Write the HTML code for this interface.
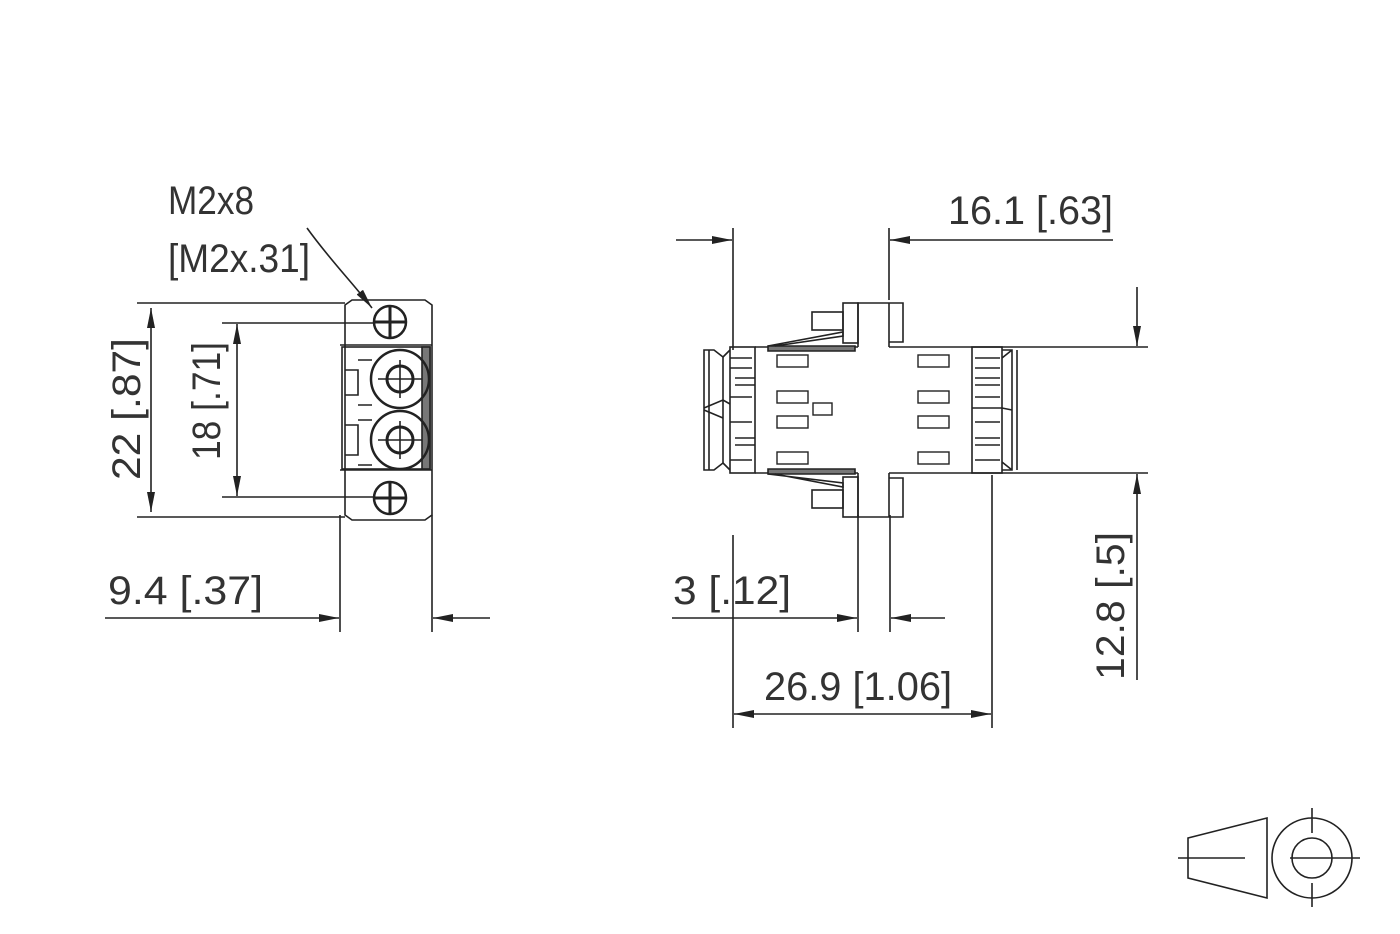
<!DOCTYPE html>
<html><head><meta charset="utf-8"><style>
html,body{margin:0;padding:0;background:#fff}
svg{display:block}
text{font-family:"Liberation Sans",sans-serif;font-size:40px;fill:#333}
</style></head><body>
<svg width="1400" height="934" viewBox="0 0 1400 934" xmlns="http://www.w3.org/2000/svg">
<defs>
<marker id="a" viewBox="0 0 20 8" refX="20" refY="4" markerWidth="20" markerHeight="8" markerUnits="userSpaceOnUse" orient="auto"><path d="M0,0 L20,4 L0,8 Z" fill="#222"/></marker>
</defs>
<g stroke="#222" stroke-width="1.6" fill="none">
<!-- LEFT VIEW dimensions -->
<line x1="137" y1="303" x2="345" y2="303"/>
<line x1="137" y1="517" x2="345" y2="517"/>
<line x1="151" y1="330" x2="151" y2="308" marker-end="url(#a)"/>
<line x1="151" y1="330" x2="151" y2="512" marker-end="url(#a)"/>
<line x1="222" y1="323" x2="375" y2="323"/>
<line x1="222" y1="497" x2="375" y2="497"/>
<line x1="237" y1="340" x2="237" y2="324" marker-end="url(#a)"/>
<line x1="237" y1="340" x2="237" y2="496" marker-end="url(#a)"/>
<line x1="340" y1="515" x2="340" y2="632"/>
<line x1="432" y1="515" x2="432" y2="632"/>
<line x1="105" y1="618" x2="339" y2="618" marker-end="url(#a)"/>
<line x1="490" y1="618" x2="433" y2="618" marker-end="url(#a)"/>
<path d="M307,228 C330,260 352,282 372,308" marker-end="url(#a)"/>
<!-- left connector -->
<path d="M345,305 L352,300 L425,300 L432,305 L432,515 L425,520 L352,520 L345,515 Z"/>
<line x1="340" y1="345" x2="432" y2="345"/>
<line x1="340" y1="470" x2="432" y2="470"/>
<rect x="342" y="347" width="88" height="122"/>
<rect x="422" y="347" width="8" height="122" fill="#777"/>
<path d="M345,370 L358,370 L358,395 L345,395 M345,425 L358,425 L358,455 L345,455"/>
<path d="M358,360 L372,360 M358,405 L372,405 M358,420 L372,420 M358,465 L372,465"/>
<circle cx="390" cy="322" r="16" stroke-width="2.5"/>
<path d="M374,322 L406,322 M390,306 L390,338" stroke-width="3"/>
<circle cx="390" cy="498" r="16" stroke-width="2.5"/>
<path d="M374,498 L406,498 M390,482 L390,514" stroke-width="3"/>
<circle cx="400" cy="379" r="29" stroke-width="2.5"/>
<circle cx="400" cy="379" r="13" stroke-width="3"/>
<path d="M378,379 L422,379 M400,360 L400,398"/>
<circle cx="400" cy="440" r="29" stroke-width="2.5"/>
<circle cx="400" cy="440" r="13" stroke-width="3"/>
<path d="M378,440 L422,440 M400,421 L400,459"/>
<!-- RIGHT VIEW dimensions -->
<line x1="733" y1="228" x2="733" y2="350"/>
<line x1="889" y1="228" x2="889" y2="300"/>
<line x1="676" y1="240" x2="732" y2="240" marker-end="url(#a)"/>
<line x1="1113" y1="240" x2="890" y2="240" marker-end="url(#a)"/>
<line x1="1020" y1="347" x2="1148" y2="347"/>
<line x1="1020" y1="473" x2="1148" y2="473"/>
<line x1="1137" y1="287" x2="1137" y2="346" marker-end="url(#a)"/>
<line x1="1137" y1="680" x2="1137" y2="474" marker-end="url(#a)"/>
<line x1="858" y1="515" x2="858" y2="632"/>
<line x1="890" y1="515" x2="890" y2="632"/>
<line x1="672" y1="618" x2="857" y2="618" marker-end="url(#a)"/>
<line x1="945" y1="618" x2="891" y2="618" marker-end="url(#a)"/>
<line x1="733" y1="535" x2="733" y2="728"/>
<line x1="992" y1="475" x2="992" y2="728"/>
<line x1="860" y1="714" x2="734" y2="714" marker-end="url(#a)"/>
<line x1="860" y1="714" x2="991" y2="714" marker-end="url(#a)"/>
<!-- right connector -->
<path d="M704,350 L714,350 L723,357 L723,463 L714,470 L704,470 Z"/>
<line x1="709" y1="350" x2="709" y2="470"/>
<path d="M723,357 L730,350 M723,463 L730,470 M704,408 L723,400 L730,404 M704,410 L723,418"/>
<rect x="730" y="347" width="25" height="126"/>
<path d="M730,358 L752,358 M730,368 L752,368 M735,378 L755,378 M735,385 L755,385 M730,397 L752,397 M730,422 L752,422 M735,438 L755,438 M735,445 L755,445 M730,460 L752,460"/>
<line x1="755" y1="347" x2="858" y2="347"/>
<line x1="755" y1="473" x2="858" y2="473"/>
<line x1="889" y1="347" x2="972" y2="347"/>
<line x1="889" y1="473" x2="972" y2="473"/>
<line x1="972" y1="347" x2="1020" y2="347"/>
<line x1="972" y1="473" x2="1020" y2="473"/>
<rect x="972" y="347" width="30" height="126"/>
<path d="M1002,350 L1012,350 L1012,470 L1002,470 M1017,350 L1017,470 M1002,358 L1012,350 M1002,462 L1012,470 M972,408 L1002,408 L1012,410"/>
<path d="M975,358 L1000,358 M975,368 L1000,368 M975,378 L1000,378 M975,385 L1000,385 M975,397 L1000,397 M975,422 L1000,422 M975,438 L1000,438 M975,445 L1000,445 M975,460 L1000,460"/>
<g stroke-width="1.4">
<rect x="777" y="355" width="31" height="12"/><rect x="918" y="355" width="31" height="12"/>
<rect x="777" y="391" width="31" height="12"/><rect x="918" y="391" width="31" height="12"/>
<rect x="777" y="416" width="31" height="12"/><rect x="918" y="416" width="31" height="12"/>
<rect x="777" y="452" width="31" height="12"/><rect x="918" y="452" width="31" height="12"/>
<rect x="813" y="403" width="19" height="12"/>
</g>
<path d="M858,347 L858,303 L903,303 L903,342 L889,342 L889,347 M889,303 L889,342"/>
<rect x="843" y="303" width="15" height="40"/>
<rect x="812" y="312" width="31" height="18"/>
<path d="M768,346 L855,346 L855,351 L768,351 Z" fill="#777"/>
<path d="M768,346 L843,332 L843,336 L775,346"/>
<path d="M858,473 L858,517 L903,517 L903,478 L889,478 L889,473 M889,478 L889,517"/>
<rect x="843" y="477" width="15" height="40"/>
<rect x="812" y="490" width="31" height="18"/>
<path d="M768,469 L855,469 L855,474 L768,474 Z" fill="#777"/>
<path d="M768,474 L843,483 L843,487 L775,474"/>
<!-- symbol -->
<path d="M1188,838 L1267,818 L1267,898 L1188,878 Z"/>
<line x1="1178" y1="858" x2="1245" y2="858"/>
<circle cx="1312" cy="858" r="40"/>
<circle cx="1312" cy="858" r="20"/>
<path d="M1290,858 L1360,858 M1312,808 L1312,833 M1312,883 L1312,907"/>
</g>
<text x="168" y="214" textLength="86" lengthAdjust="spacingAndGlyphs">M2x8</text>
<text x="168" y="272" textLength="142" lengthAdjust="spacingAndGlyphs">[M2x.31]</text>
<text x="108" y="604" textLength="155" lengthAdjust="spacingAndGlyphs">9.4 [.37]</text>
<text transform="translate(140,480) rotate(-90)" textLength="142" lengthAdjust="spacingAndGlyphs">22 [.87]</text>
<text transform="translate(220,460) rotate(-90)" textLength="118" lengthAdjust="spacingAndGlyphs">18 [.71]</text>
<text x="948" y="224" textLength="165" lengthAdjust="spacingAndGlyphs">16.1 [.63]</text>
<text x="673" y="604" textLength="118" lengthAdjust="spacingAndGlyphs">3 [.12]</text>
<text x="764" y="700" textLength="188" lengthAdjust="spacingAndGlyphs">26.9 [1.06]</text>
<text transform="translate(1124,680) rotate(-90)" textLength="148" lengthAdjust="spacingAndGlyphs">12.8 [.5]</text>
</svg>
</body></html>
